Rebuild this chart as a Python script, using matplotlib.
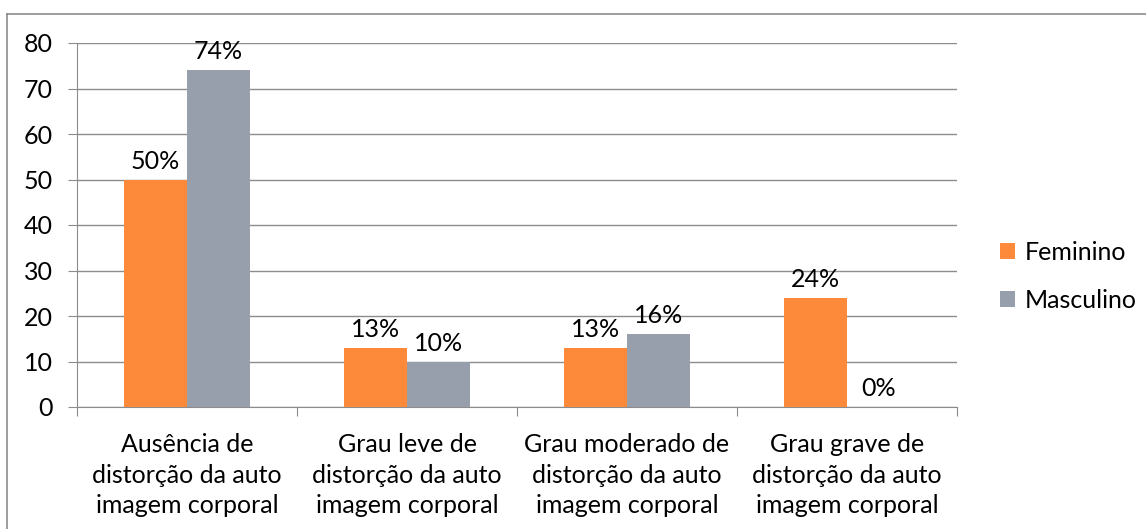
import matplotlib.pyplot as plt
import numpy as np
from matplotlib.lines import Line2D

plt.rcParams['font.family'] = ['Lato', 'DejaVu Sans']

categorias = ['Ausência de\ndistorção da auto\nimagem corporal',
              'Grau leve de\ndistorção da auto\nimagem corporal',
              'Grau moderado de\ndistorção da auto\nimagem corporal',
              'Grau grave de\ndistorção da auto\nimagem corporal']
feminino = [50, 13, 13, 24]
masculino = [74, 10, 16, 0]
series = ['Feminino', 'Masculino']

cor_fem = '#FD8A3A'
cor_masc = '#979FAC'
cinza = '#8C8C8C'
fs = 18

W, H = 1146, 529
fig = plt.figure(figsize=(W/100, H/100), dpi=100)
ax = fig.add_axes([77/W, 1 - 407/H, (957-77)/W, (407-43)/H])

x = np.arange(len(categorias))
w = 0.286
b1 = ax.bar(x - w/2, feminino, w, color=cor_fem, label=series[0], zorder=3)
b2 = ax.bar(x + w/2, masculino, w, color=cor_masc, label=series[1], zorder=3)

for bars, vals in [(b1, feminino), (b2, masculino)]:
    for r, v in zip(bars, vals):
        ax.text(r.get_x() + r.get_width()/2, v + 1.5, f'{v}%',
                ha='center', va='bottom', fontsize=fs)

ax.set_xlim(-0.5, 3.5)
ax.set_ylim(0, 80)
ax.set_yticks(range(0, 81, 10))
ax.yaxis.grid(True, color=cinza, linewidth=1)
ax.set_axisbelow(True)
for s in ['top', 'right']:
    ax.spines[s].set_visible(False)
ax.spines['left'].set_color(cinza)
ax.spines['bottom'].set_color(cinza)
ax.tick_params(axis='y', length=6.5, color=cinza, labelsize=fs, pad=11)

# x ticks on category borders, labels in the middle
ax.set_xticks(np.arange(-0.5, 4, 1))
ax.set_xticklabels([])
ax.set_xticks(x, minor=True)
ax.set_xticklabels(categorias, minor=True, fontsize=fs, linespacing=1.38)
ax.tick_params(axis='x', which='major', length=6.5, color=cinza)
ax.tick_params(axis='x', which='minor', length=0, pad=19)

leg = fig.legend(handles=[b1, b2], labels=series, loc='center left',
                 bbox_to_anchor=(1000/W, 1 - 276/H), frameon=False, fontsize=fs,
                 handlelength=0.6, handleheight=0.6, labelspacing=1.0,
                 handletextpad=0.4, borderpad=0, borderaxespad=0)

# frame lines (top and left only)
fig.add_artist(Line2D([7/W, 1], [1 - 14/H, 1 - 14/H], transform=fig.transFigure,
                      color=cinza, linewidth=1.2))
fig.add_artist(Line2D([7/W, 7/W], [0, 1 - 14/H], transform=fig.transFigure,
                      color=cinza, linewidth=1.2))

fig.savefig('out.png', dpi=100)
